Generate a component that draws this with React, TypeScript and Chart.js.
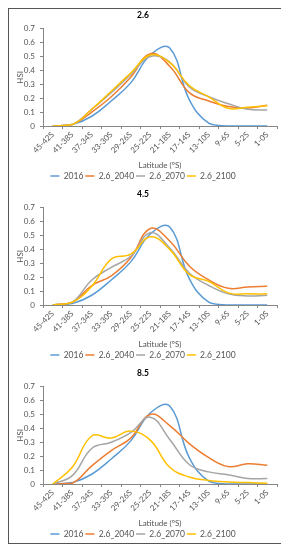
import React, { useEffect, useRef } from "react";
import { Chart, registerables } from "chart.js";

Chart.register(...registerables);

const categories = [
  "45-42S", "41-38S", "37-34S", "33-30S", "29-26S", "25-22S",
  "21-18S", "17-14S", "13-10S", "9-6S", "5-2S", "1-0S",
];
const seriesNames = ["2016", "2.6_2040", "2.6_2070", "2.6_2100"];
const seriesColors = ["#5B9BD5", "#ED7D31", "#A5A5A5", "#FFC000"];
const panelTitles = ["2.6", "4.5", "8.5"];
const xAxisTitle = "Latitude (ºS)";
const yAxisTitle = "HSI";

const hsi2016 = [0, 0.01, 0.07, 0.18, 0.31, 0.51, 0.56, 0.19, 0.02, 0, 0, 0];

const rcp26_2040 = [0, 0.01, 0.1, 0.21, 0.35, 0.52, 0.43, 0.24, 0.18, 0.14, 0.13, 0.15];
const rcp26_2070 = [0, 0.01, 0.12, 0.24, 0.37, 0.5, 0.46, 0.28, 0.21, 0.16, 0.12, 0.115];
const rcp26_2100 = [0, 0.01, 0.12, 0.25, 0.38, 0.51, 0.455, 0.29, 0.21, 0.127, 0.135, 0.145];

const rcp45_2040 = [0, 0.02, 0.14, 0.21, 0.34, 0.55, 0.46, 0.28, 0.18, 0.12, 0.13, 0.135];
const rcp45_2070 = [0, 0.02, 0.18, 0.27, 0.35, 0.52, 0.41, 0.23, 0.14, 0.08, 0.065, 0.07];
const rcp45_2100 = [0, 0.02, 0.135, 0.33, 0.365, 0.49, 0.4, 0.22, 0.17, 0.087, 0.08, 0.08];

const rcp85_2040 = [0, 0.005, 0.13, 0.24, 0.33, 0.5, 0.42, 0.29, 0.19, 0.125, 0.145, 0.135];
const rcp85_2070 = [0, 0.06, 0.255, 0.3, 0.37, 0.48, 0.32, 0.14, 0.087, 0.067, 0.04, 0.04];
const rcp85_2100 = [0, 0.12, 0.345, 0.33, 0.38, 0.315, 0.12, 0.05, 0.026, 0.015, 0.01, 0.005];

const panelSeries = [
  [hsi2016, rcp26_2040, rcp26_2070, rcp26_2100],
  [hsi2016, rcp45_2040, rcp45_2070, rcp45_2100],
  [hsi2016, rcp85_2040, rcp85_2070, rcp85_2100],
];

const FONT = "Lato, 'Open Sans', 'DejaVu Sans', sans-serif";
const TEXT = "#555555";
const AXIS = "#868686";

function Panel({ title, series }: { title: string; series: number[][] }) {
  const ref = useRef<HTMLCanvasElement | null>(null);
  useEffect(() => {
    if (!ref.current) return;
    const chart = new Chart(ref.current, {
      type: "line",
      data: {
        labels: categories,
        datasets: series.map((d, i) => ({
          label: seriesNames[i],
          data: d,
          borderColor: seriesColors[i],
          backgroundColor: seriesColors[i],
          borderWidth: 1.5,
          pointRadius: 0,
          tension: 0.42,
          fill: false,
          order: series.length - i,
        })),
      },
      options: {
        responsive: false,
        animation: false,
        layout: { padding: { top: 0, left: 0, right: 5, bottom: -2.25 } },
        plugins: {
          tooltip: { enabled: false },
          title: {
            display: true,
            text: title,
            color: "#000",
            font: { family: FONT, size: 8.5, weight: "bold" },
            padding: { top: 1, bottom: 8.4 },
          },
          legend: {
            position: "bottom",
            labels: {
              usePointStyle: true,
              pointStyle: "line",
              pointStyleWidth: 9,
              boxWidth: 9,
              padding: 2,
              color: TEXT,
              font: { family: FONT, size: 8.5 },
              sort: (a: any, b: any) => a.datasetIndex - b.datasetIndex,
            },
          },
        },
        scales: {
          x: {
            type: "category",
            offset: true,
            afterFit: (s: any) => {
              s.height = 43.75;
            },
            grid: {
              offset: true,
              drawOnChartArea: false,
              drawTicks: true,
              tickLength: 3,
              color: AXIS,
            },
            border: { display: true, color: AXIS },
            ticks: {
              autoSkip: false,
              minRotation: 45,
              maxRotation: 45,
              padding: 1,
              color: TEXT,
              font: { family: FONT, size: 8 },
            },
            title: {
              display: true,
              text: xAxisTitle,
              color: TEXT,
              font: { family: FONT, size: 8 },
              padding: { top: 0, bottom: 0 },
            },
          },
          y: {
            min: 0,
            max: 0.7,
            afterFit: (s: any) => {
              s.width = 34;
            },
            grid: {
              drawOnChartArea: false,
              drawTicks: true,
              tickLength: 3,
              color: AXIS,
            },
            border: { display: true, color: AXIS },
            ticks: {
              stepSize: 0.1,
              padding: 5,
              color: TEXT,
              font: { family: FONT, size: 8 },
              callback: (v: any) => String(Math.round(Number(v) * 10) / 10),
            },
            title: {
              display: true,
              text: yAxisTitle,
              color: TEXT,
              font: { family: FONT, size: 8 },
              padding: { top: 7, bottom: 0 },
            },
          },
        },
      },
    } as any);
    return () => chart.destroy();
  }, [title, series]);
  return (
    <div style={{ height: 179 }}>
      <canvas ref={ref} width={273} height={179} style={{ display: "block" }} />
    </div>
  );
}

export default function App() {
  return (
    <div
      style={{
        width: 273,
        height: 534,
        border: "1px solid #555",
        borderRightColor: "#888",
        overflow: "hidden",
        background: "#fff",
      }}
    >
      {panelTitles.map((t, i) => (
        <Panel key={t} title={t} series={panelSeries[i]} />
      ))}
    </div>
  );
}
